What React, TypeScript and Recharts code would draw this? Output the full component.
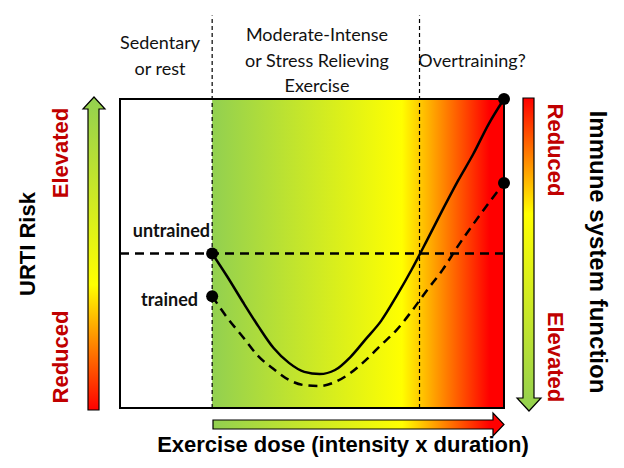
import { ComposedChart, Line, XAxis, YAxis, ReferenceLine, ReferenceArea } from "recharts";

// exercise dose (0-100) along the x axis
const dose = [24, 28, 32, 36, 40, 44, 48, 52, 56, 60, 64, 68, 72, 76, 80, 84, 88, 92, 96, 100];
// URTI risk (0 = reduced, 100 = elevated)
const untrained = [50, 42.4, 34.3, 26.5, 19.4, 14.6, 11.7, 11.0, 12.3, 16.5, 22.3, 28.2, 36.2, 44.9, 54.4, 64.1, 73.5, 82.2, 91.9, 100];
const trained = [36.2, 29.1, 23.0, 16.8, 12.6, 9.1, 7.4, 7.1, 8.4, 11.3, 15.5, 20.4, 25.2, 31.4, 38.2, 44.7, 52.4, 59.5, 66.3, 72.8];
const regionEdges = [24, 78];
const sedentaryRisk = 50;

const data = dose.map((d, i) => ({ dose: d, untrained: untrained[i], trained: trained[i] }));

const W = 624;
const H = 468;

const endDot = (props: any) => {
  const { cx, cy, index } = props;
  if (index === 0 || index === data.length - 1) {
    return <circle key={`d${index}`} cx={cx} cy={cy} r={6} fill="#000" />;
  }
  return <g key={`d${index}`} />;
};

const calibri = "Lato, 'Open Sans', sans-serif";
const arial = "'Liberation Sans', Arial, sans-serif";
const darkRed = "#C00000";

export default function App() {
  return (
    <div style={{ position: "absolute", left: 0, top: 0, width: W, height: H, background: "#fff" }}>
      <ComposedChart width={W} height={H} data={data} margin={{ top: 99, right: 120, bottom: 60, left: 120 }}>
        <defs>
          <linearGradient id="doseGrad" x1="0" y1="0" x2="1" y2="0">
            <stop offset="0" stopColor="#92D050" />
            <stop offset="0.65" stopColor="#FFFF00" />
            <stop offset="0.95" stopColor="#FF0000" />
            <stop offset="1" stopColor="#FF0000" />
          </linearGradient>
          <linearGradient id="riskGrad" x1="0" y1="0" x2="0" y2="1">
            <stop offset="0" stopColor="#92D050" />
            <stop offset="0.6" stopColor="#FFFF00" />
            <stop offset="1" stopColor="#FF0000" />
          </linearGradient>
          <linearGradient id="immuneGrad" x1="0" y1="0" x2="0" y2="1">
            <stop offset="0" stopColor="#FF0000" />
            <stop offset="0.37" stopColor="#FFFF00" />
            <stop offset="1" stopColor="#92D050" />
          </linearGradient>
        </defs>
        <XAxis type="number" dataKey="dose" domain={[0, 100]} hide />
        <YAxis type="number" domain={[0, 100]} hide />
        <ReferenceArea x1={regionEdges[0]} x2={100} y1={0} y2={100} fill="url(#doseGrad)" fillOpacity={1} stroke="none" />
        {regionEdges.map((x) => (
          <ReferenceLine
            key={x}
            segment={[{ x, y: 0 }, { x, y: 127 }]}
            ifOverflow="visible"
            stroke="#000"
            strokeWidth={1.2}
            strokeDasharray="4 3"
          />
        ))}
        <ReferenceLine y={sedentaryRisk} stroke="#000" strokeWidth={2.5} strokeDasharray="9 6" />
        <Line
          type="monotone"
          dataKey="untrained"
          stroke="#000"
          strokeWidth={2.5}
          dot={endDot}
          activeDot={false}
          isAnimationActive={false}
        />
        <Line
          type="monotone"
          dataKey="trained"
          stroke="#000"
          strokeWidth={2.5}
          strokeDasharray="9 6"
          dot={endDot}
          activeDot={false}
          isAnimationActive={false}
        />
        <ReferenceArea x1={0} x2={100} y1={0} y2={100} fill="none" stroke="#000" strokeWidth={2} />

        {/* arrows */}
        <polygon
          points="94,97 105,109 99,109 99,410 88,410 88,109 83,109"
          fill="url(#riskGrad)"
          stroke="#000"
          strokeWidth={1.2}
        />
        <polygon
          points="523,98 534,98 534,398 541,398 529,411 517,398 523,398"
          fill="url(#immuneGrad)"
          stroke="#000"
          strokeWidth={1.2}
        />
        <polygon
          points="213,420 493,420 493,413 504,424.5 493,436 493,429 213,429"
          fill="url(#doseGrad)"
          stroke="#000"
          strokeWidth={1.2}
        />

        {/* top labels */}
        <g fontFamily={calibri} fontSize={18} fill="#111" textAnchor="middle">
          <text x={160} y={49}>Sedentary</text>
          <text x={160} y={75}>or rest</text>
          <text x={317} y={41}>Moderate-Intense</text>
          <text x={317} y={67}>or Stress Relieving</text>
          <text x={317} y={92}>Exercise</text>
          <text x={472} y={67}>Overtraining?</text>
        </g>
        <g fontFamily={calibri} fontSize={18} fontWeight="bold" fill="#111" textAnchor="end">
          <text x={210} y={237}>untrained</text>
          <text x={198} y={306}>trained</text>
        </g>

        {/* side labels */}
        <g fontFamily={arial} fontWeight="bold" textAnchor="middle" dominantBaseline="central">
          <text x={27} y={244} fontSize={22} fill="#000" transform="rotate(-90 27 244)">URTI Risk</text>
          <text x={60} y={153} fontSize={22} fill={darkRed} transform="rotate(-90 60 153)">Elevated</text>
          <text x={60} y={357} fontSize={22} fill={darkRed} transform="rotate(-90 60 357)">Reduced</text>
          <text x={555} y={150} fontSize={22} fill={darkRed} transform="rotate(90 555 150)">Reduced</text>
          <text x={555} y={357} fontSize={22} fill={darkRed} transform="rotate(90 555 357)">Elevated</text>
          <text x={598} y={252} fontSize={24} fill="#000" transform="rotate(90 598 252)">Immune system function</text>
        </g>
        <text x={343} y={452} fontFamily={arial} fontWeight="bold" fontSize={22} fill="#000" textAnchor="middle">
          Exercise dose (intensity x duration)
        </text>
      </ComposedChart>
    </div>
  );
}
